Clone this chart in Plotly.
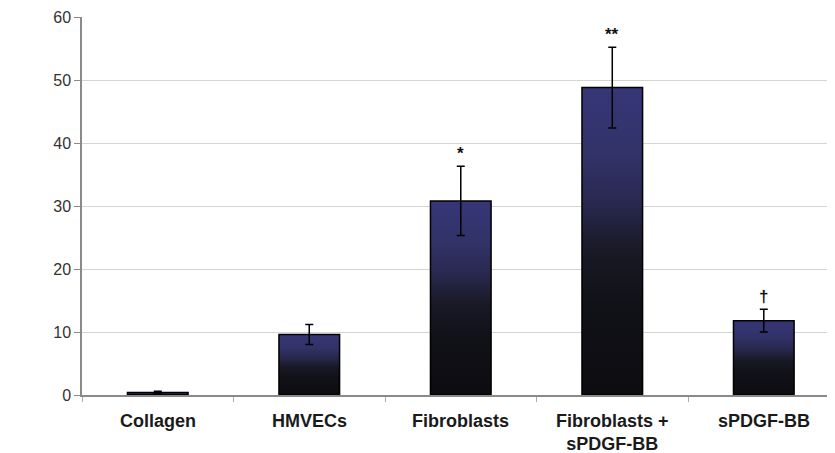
import plotly.graph_objects as go

categories = ["Collagen", "HMVECs", "Fibroblasts", "Fibroblasts +<br>sPDGF-BB", "sPDGF-BB"]
values = [0.4, 9.6, 30.8, 48.8, 11.8]
errors = [0.2, 1.6, 5.5, 6.4, 1.8]
markers = ["", "", "*", "**", "†"]
y_ticks = [0, 10, 20, 30, 40, 50, 60]

BAR_W = 0.4
grad = [[0.0, "#0c0c11"], [0.3, "#111118"], [0.48, "#1a1a28"],
        [0.62, "#28284f"], [0.78, "#323268"], [1.0, "#363678"]]

fig = go.Figure()
for i, v in enumerate(values):
    x0, x1 = i - BAR_W / 2, i + BAR_W / 2
    fig.add_trace(go.Scatter(
        x=[x0, x1, x1, x0, x0], y=[0, 0, v, v, 0],
        mode="lines", fill="toself",
        fillgradient=dict(type="vertical", colorscale=grad, start=0, stop=v),
        line=dict(color="#000000", width=1.5),
        hoverinfo="skip", showlegend=False,
    ))

fig.add_trace(go.Scatter(
    x=list(range(len(values))), y=values, mode="markers",
    marker=dict(size=1, color="rgba(0,0,0,0)"),
    error_y=dict(type="data", array=errors, visible=True,
                 color="#000000", thickness=1.5, width=4),
    showlegend=False,
))

for i, (v, e, m) in enumerate(zip(values, errors, markers)):
    if m:
        fig.add_annotation(x=i, y=v + e, text="<b>" + m + "</b>", showarrow=False,
                           yanchor="bottom", yshift=1,
                           font=dict(family="Liberation Sans", size=17, color="#111"))

for i, c in enumerate(categories):
    fig.add_annotation(x=i, y=0, xref="x", yref="y", text="<b>" + c + "</b>",
                       showarrow=False, yanchor="top", yshift=-14,
                       font=dict(family="Liberation Sans", size=18, color="#1a1a1a"))

fig.update_layout(
    width=827, height=445,
    margin=dict(l=74, r=0, t=9, b=58),
    plot_bgcolor="white", paper_bgcolor="white",
    xaxis=dict(range=[-0.5, 4.47], showticklabels=False,
               tickvals=[], showgrid=False, zeroline=False,
               showline=True, linecolor="#8a8a8a", linewidth=1.5,
               minor=dict(tick0=-0.5, dtick=1, ticks="outside", ticklen=5,
                          tickcolor="#aaaaaa", showgrid=False)),
    yaxis=dict(range=[0, 60], tickvals=y_ticks, ticks="outside", ticklen=6,
               tickcolor="#8a8a8a", showline=True, linecolor="#8a8a8a", linewidth=1.5,
               gridcolor="#d4d4d4", gridwidth=1, zeroline=False,
               tickfont=dict(family="Liberation Sans", size=16, color="#333")),
)

fig.write_html("out.html")
